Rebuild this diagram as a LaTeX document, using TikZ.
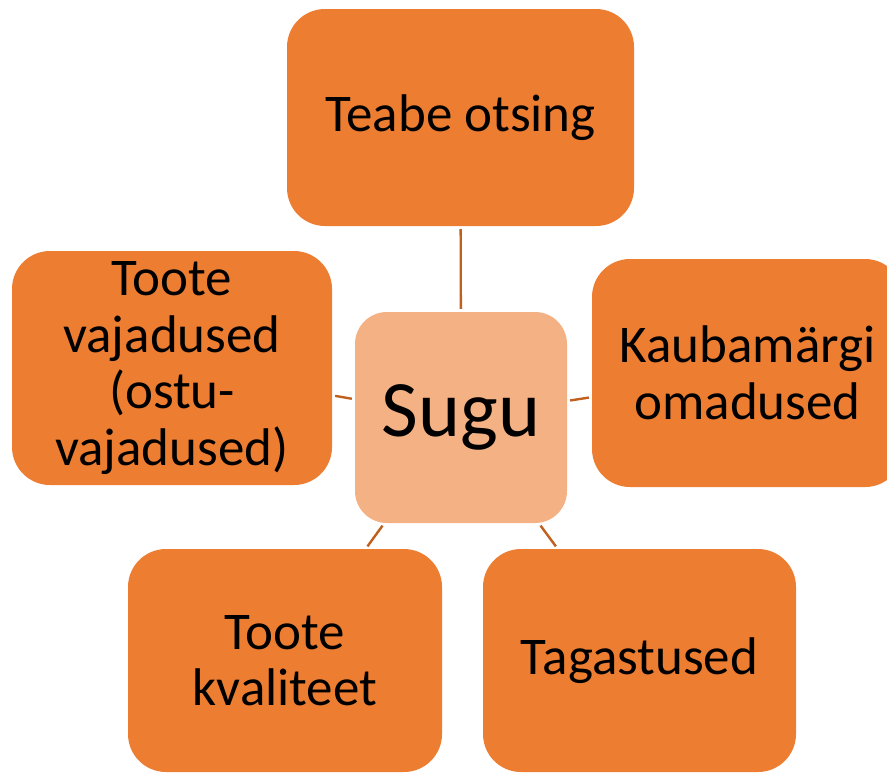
\documentclass[tikz,border=0pt]{standalone}
\usepackage{fontspec}
\setmainfont{Carlito}
\definecolor{outerfill}{HTML}{ED7D31}
\definecolor{innerfill}{HTML}{F4B183}
\definecolor{linkcol}{HTML}{C0601E}
\tikzset{
  outerbox/.style={rectangle, rounded corners=38pt, fill=outerfill, draw=none,
    inner sep=0pt, align=center, font=\fontsize{53}{56.5}\selectfont, text=black},
  innerbox/.style={rectangle, rounded corners=32pt, fill=innerfill, draw=none,
    inner sep=0pt, align=center, font=\fontsize{80}{90}\selectfont, text=black},
  link/.style={draw=linkcol, line width=2.4pt, shorten >=3pt, shorten <=3pt}
}
\begin{document}
\begin{tikzpicture}[x=1pt,y=-1pt]
\useasboundingbox (0,0) rectangle (887,772);
\clip (0,0) rectangle (887,772);
\node[innerbox, minimum width=212pt, minimum height=211pt] (c) at (461,417.5) {Sugu};
\node[outerbox, minimum width=347pt, minimum height=217pt] (t) at (460.5,117.5) {Teabe otsing};
\node[outerbox, minimum width=320pt, minimum height=234pt] (l) at (172,368) {Toote\\vajadused\\(ostu-\\vajadused)};
\node[outerbox, minimum width=311pt, minimum height=228pt] (r) at (747.5,373) {Kaubamärgi\\omadused};
\node[outerbox, minimum width=314pt, minimum height=223pt] (bl) at (285,660.5) {Toote\\kvaliteet};
\node[outerbox, minimum width=313pt, minimum height=223pt] (br) at (639.5,660.5) {Tagastused};
\draw[link] (c) -- (t);
\draw[link] (c) -- (l);
\draw[link] (c) -- (r);
\draw[link] (c) -- (bl);
\draw[link] (c) -- (br);
\end{tikzpicture}
\end{document}
